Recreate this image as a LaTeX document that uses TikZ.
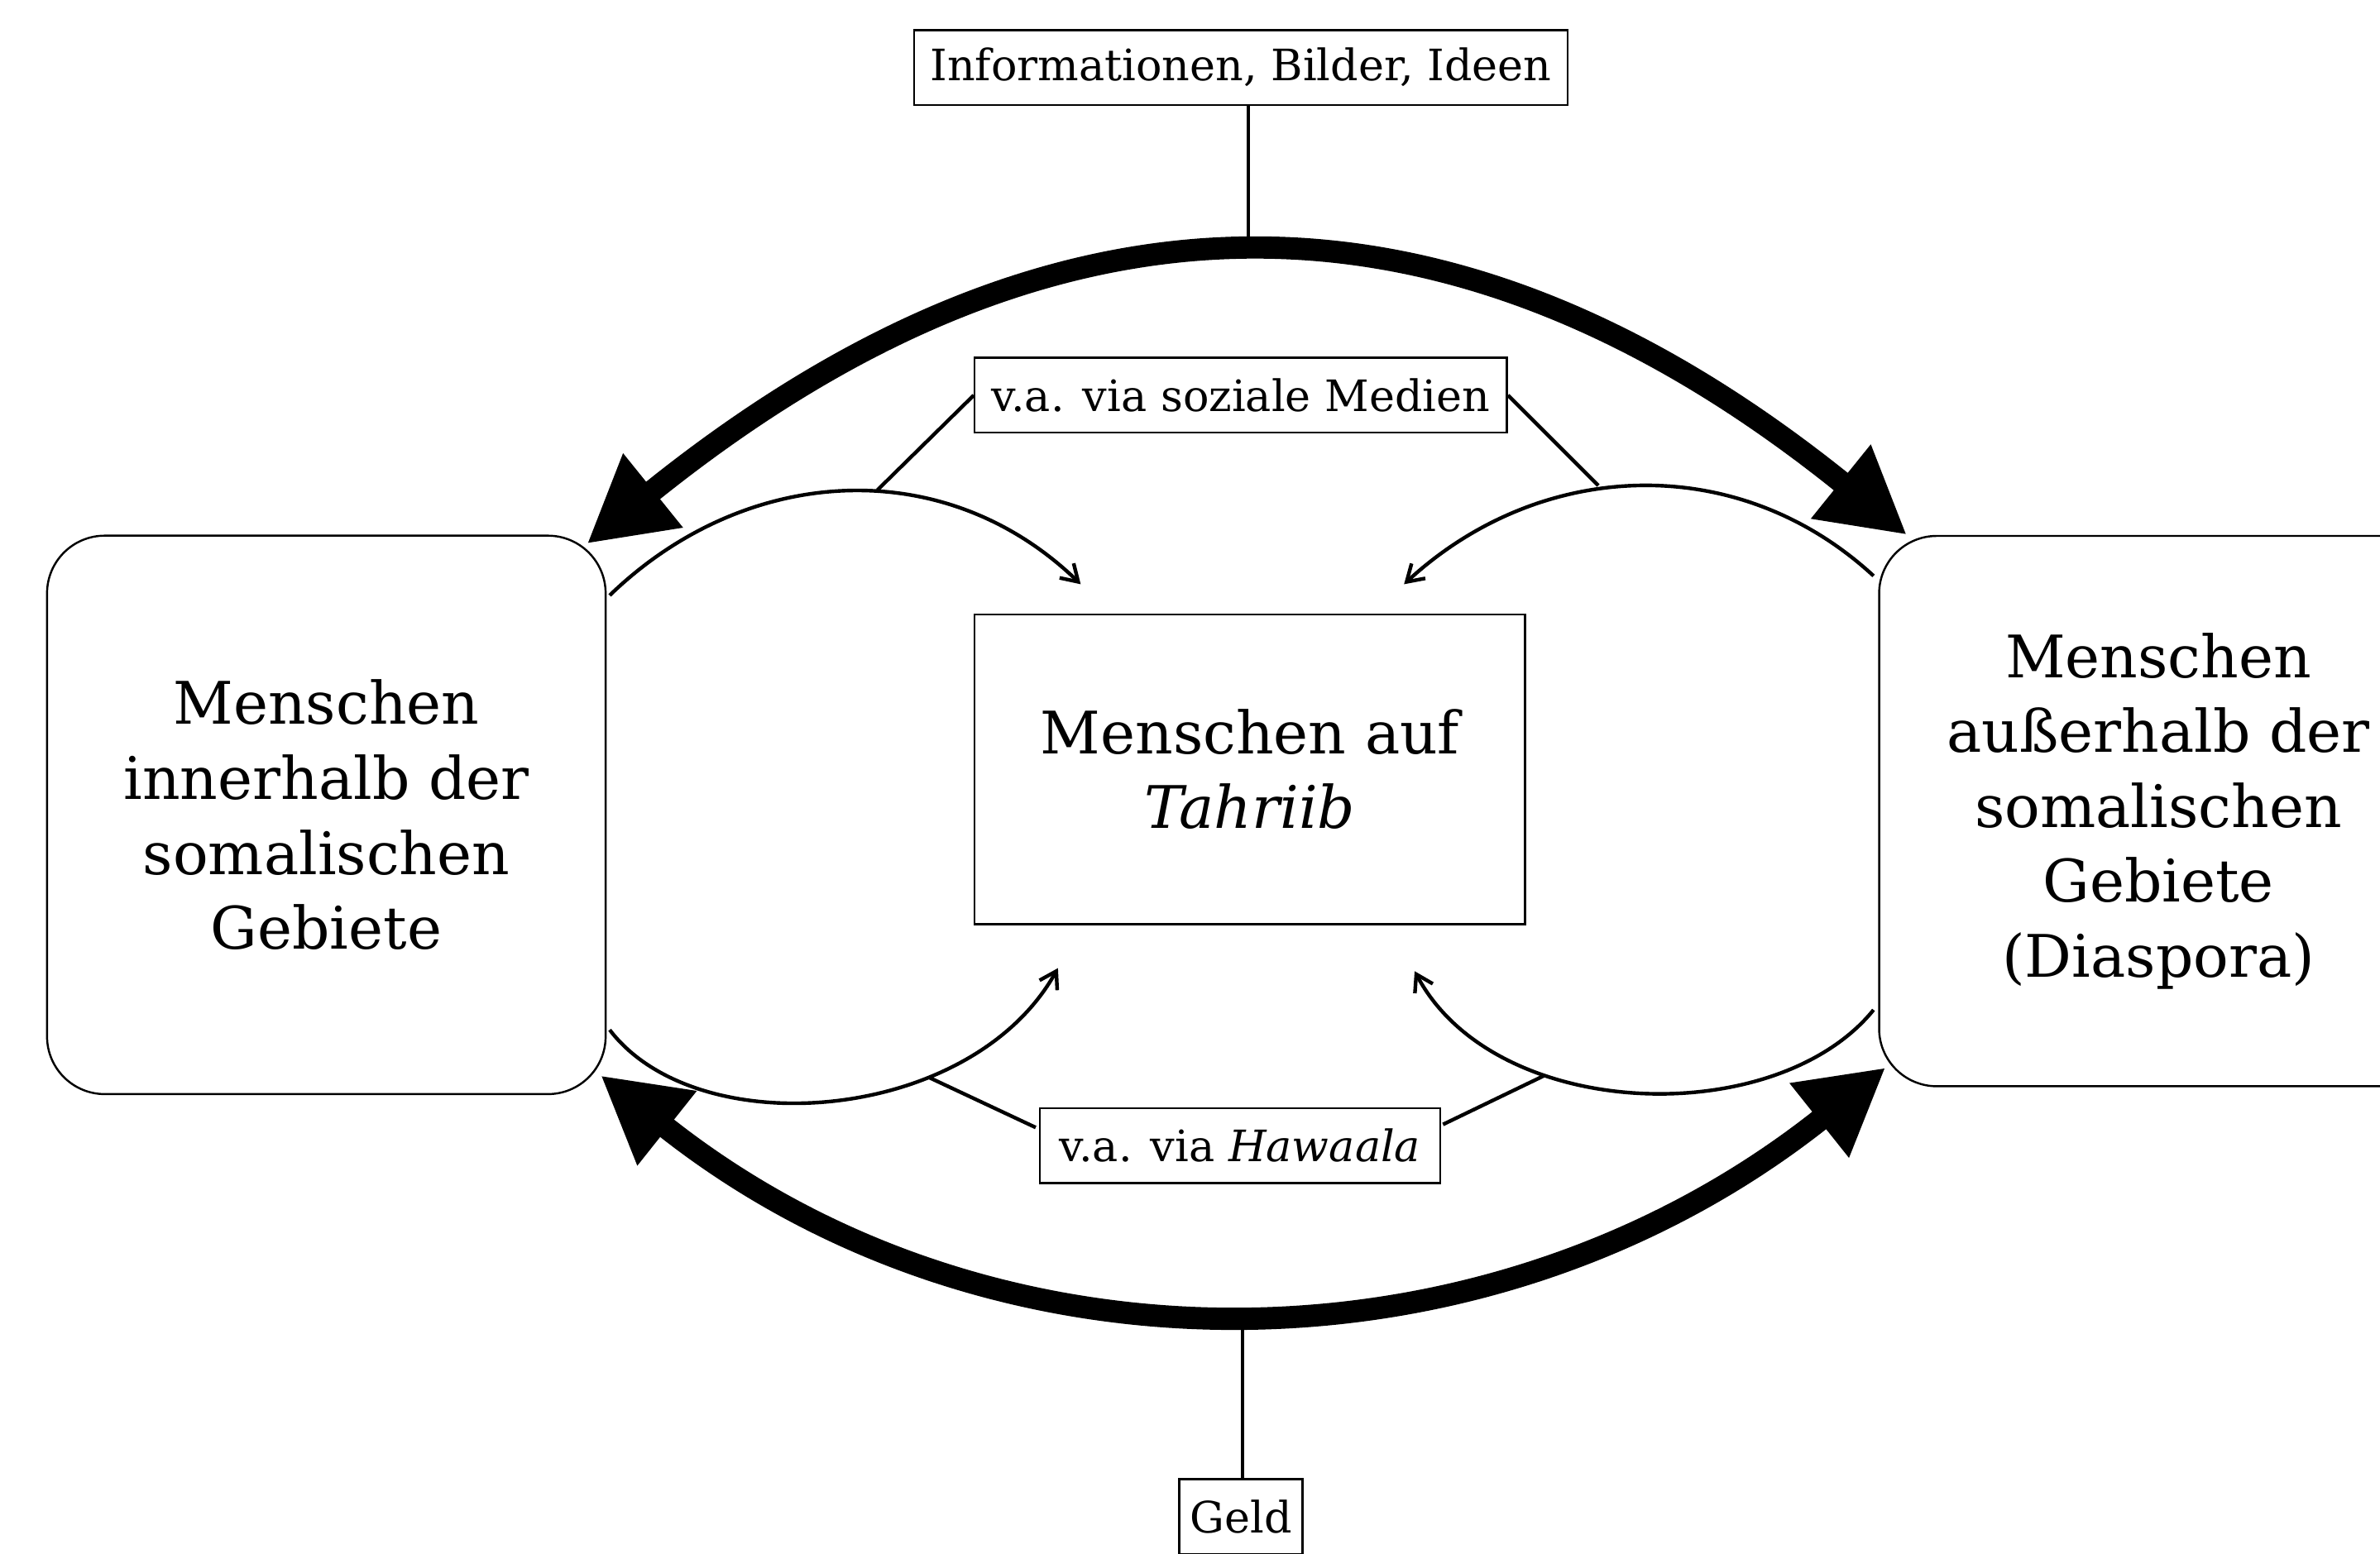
\documentclass[tikz,border=0pt]{standalone}
\usepackage{fontspec}
\setmainfont{DejaVu Serif}
\usepackage{tikz}
\usetikzlibrary{calc, positioning}
\usetikzlibrary{arrows.meta}

\newcommand{\boxfont}{\fontsize{29}{37}\selectfont}
\newcommand{\labelfont}{\fontsize{21.4}{26}\selectfont}

\begin{document}
\begin{tikzpicture}[x=0.75pt,y=0.75pt,yscale=-1,xscale=1,
	groupbox/.style={draw, line width=1pt, rounded corners=28.5pt, align=center, font=\boxfont, inner sep=0pt, minimum width=276pt},
	midbox/.style={draw, line width=1pt, align=center, font=\boxfont, inner sep=0pt, minimum width=272pt, minimum height=153pt},
	tag/.style={draw, line width=1pt, font=\labelfont, inner sep=0pt, minimum height=37pt},
	flow/.style={line width=11pt, {Triangle[length=42pt,width=44pt]}-{Triangle[length=42pt,width=44pt]}},
	link/.style={line width=1.8pt, -{Straight Barb[length=8pt,width=10pt]}},
	leader/.style={line width=1.8pt}]
		\useasboundingbox (0,0) rectangle (1568,1024);
		\clip (0,0) rectangle (1568,1024);

		%Shape: Rounded Rect
		\node [groupbox, minimum height=276pt] (inside) at (215,537) {Menschen\\innerhalb der\\somalischen\\Gebiete};
		%Shape: Rounded Rect
		\node [groupbox, minimum height=272pt] (outside) at (1422,534.5) {Menschen\\außerhalb der\\somalischen\\Gebiete\\(Diaspora)};
		%Shape: Rectangle
		\node [midbox] (tahriib) at (823.5,507) {Menschen auf\\\textit{Tahriib}};

		% Text Node
		\node [tag, minimum width=323pt] (info) at (817.5,44.5) {Informationen, Bilder, Ideen};
		% Text Node
		\node [tag, minimum width=263pt] (media) at (817.5,260.5) {v.a. via soziale Medien};
		% Text Node
		\node [tag, minimum width=198pt] (hawaala) at (817,755) {v.a. via \textit{Hawaala}};
		% Text Node
		\node [tag, minimum width=61pt] (geld) at (817.5,999.5) {Geld};

		%Curve Lines
		\draw [flow] ($(inside.north east)+(-13,6)$) .. controls (691,113) and (952,107) .. ($(outside.north west)+(19,0)$);
		%Curve Lines
		\draw [flow] ($(inside.south east)+(-4,-13)$) .. controls (655,915) and (983,910) .. ($(outside.south west)+(5,-13)$);

		%Curve Lines
		\coordinate (tl) at (712,385);
		\coordinate (tr) at (925,385);
		\coordinate (bl) at (697,638);
		\coordinate (br) at (932,640);
		\draw [link] ($(inside.north east)+(2,40)$) .. controls (491,306) and (622,298) .. (tl);
		\draw [link] ($(outside.north west)+(-3,27)$) .. controls (1145,297) and (1015,302) .. (tr);
		\draw [link] ($(inside.south east)+(2,-43)$) .. controls (460,755) and (640,740) .. (bl);
		\draw [link] ($(outside.south west)+(-3,-51)$) .. controls (1170,745) and (985,740) .. (br);

		%Straight Lines
		\coordinate (topjoin) at (822.5,162);
		\coordinate (botjoin) at (818.5,868);
		\draw [leader] (info.south -| topjoin) -- (topjoin);
		\draw [leader] (botjoin) -- (botjoin |- geld.north);
		\draw [leader] (media.west) -- (578,323);
		\draw [leader] (media.east) -- (1053,320);
		\draw [leader] ($(hawaala.west)+(-2,-12)$) -- (612,710);
		\draw [leader] ($(hawaala.east)+(1,-14)$) -- (1017,709);

\end{tikzpicture}
\end{document}
